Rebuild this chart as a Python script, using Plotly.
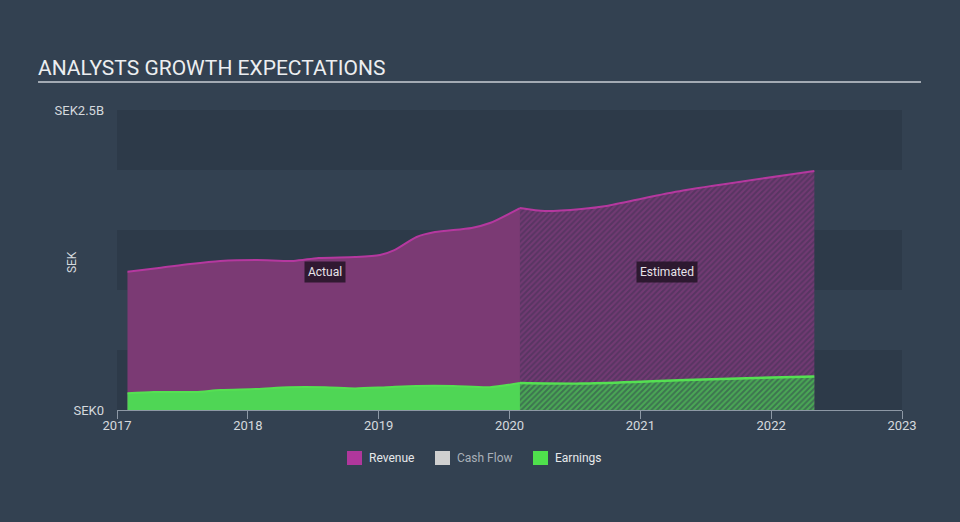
import plotly.graph_objects as go

# Revenue and earnings, SEK billions
rev_act_x = [2017.08, 2017.32, 2017.56, 2017.79, 2018.07, 2018.35, 2018.54, 2018.82,
             2019.01, 2019.12, 2019.29, 2019.43, 2019.71, 2019.85, 2020.08]
rev_act_y = [1.153, 1.183, 1.217, 1.242, 1.25, 1.242, 1.267, 1.275,
             1.292, 1.333, 1.442, 1.483, 1.517, 1.558, 1.683]
rev_est_x = [2020.08, 2020.27, 2020.55, 2020.74, 2021.07, 2021.35, 2022.33]
rev_est_y = [1.683, 1.658, 1.675, 1.70, 1.775, 1.833, 1.992]

earn_act_x = [2017.08, 2017.28, 2017.6, 2017.79, 2018.07, 2018.31, 2018.59,
              2018.82, 2019.06, 2019.29, 2019.57, 2019.85, 2020.08]
earn_act_y = [0.14, 0.15, 0.15, 0.167, 0.175, 0.19, 0.19,
              0.18, 0.19, 0.2, 0.2, 0.19, 0.225]
earn_est_x = [2020.08, 2020.55, 2021.0, 2021.35, 2022.33]
earn_est_y = [0.225, 0.22, 0.235, 0.25, 0.28]

years = [2017, 2018, 2019, 2020, 2021, 2022, 2023]
y_ticks = [0, 2.5]
y_labels = ["SEK0", "SEK2.5B"]
bands = [(0, 0.5), (1, 1.5), (2, 2.5)]
legend_names = ["Revenue", "Cash Flow", "Earnings"]

BG = "#334151"
BAND = "#2d3a49"
PURPLE_LINE = "#b5389f"
PURPLE_FILL = "#7b3a74"
GREEN_LINE = "#55e052"
GREEN_FILL = "#4fd655"
TEXT = "#d5d9de"
FONT = "Roboto"

fig = go.Figure()

# revenue actual
fig.add_trace(go.Scatter(
    x=rev_act_x, y=rev_act_y, name="Revenue", mode="lines",
    line=dict(color=PURPLE_LINE, width=2, shape="spline", smoothing=0.7),
    fill="tozeroy", fillcolor=PURPLE_FILL, hoverinfo="skip"
))
# revenue estimated (hatched)
fig.add_trace(go.Scatter(
    x=rev_est_x, y=rev_est_y, name="Revenue est", mode="lines",
    line=dict(color=PURPLE_LINE, width=2, shape="spline", smoothing=0.7),
    fill="tozeroy", fillcolor="#583562",
    fillpattern=dict(shape="/", fgcolor="#8c3f84", bgcolor="#583562", size=4, solidity=0.5),
    hoverinfo="skip"
))
# earnings actual
fig.add_trace(go.Scatter(
    x=earn_act_x, y=earn_act_y, name="Earnings", mode="lines",
    line=dict(color=GREEN_LINE, width=2, shape="spline", smoothing=0.7),
    fill="tozeroy", fillcolor=GREEN_FILL, hoverinfo="skip"
))
# earnings estimated (hatched)
fig.add_trace(go.Scatter(
    x=earn_est_x, y=earn_est_y, name="Earnings est", mode="lines",
    line=dict(color=GREEN_LINE, width=2.5, shape="spline", smoothing=0.7),
    fill="tozeroy", fillcolor="#3d7450",
    fillpattern=dict(shape="/", fgcolor="#58dc5a", bgcolor="#3d7450", size=4, solidity=0.5),
    hoverinfo="skip"
))

# alternating background bands
for y0, y1 in bands:
    fig.add_shape(type="rect", xref="paper", yref="y", x0=0, x1=1, y0=y0, y1=y1,
                  fillcolor=BAND, line=dict(width=0), layer="below")

# title underline
fig.add_shape(type="line", xref="paper", yref="paper",
              x0=-0.1006, x1=1.0242, y0=1.0933, y1=1.0933,
              line=dict(color="#a3aab3", width=2))

# legend drawn by hand: square swatch + label (pixel positions -> paper coords)
def px_x(p):
    return (p - 117) / 785

def px_y(p):
    return (410 - p) / 300

legend_swatch = ["#b0379c", "#cfcfcf", "#4fe04c"]
legend_text_col = ["#e6e8ea", "#a9b0b8", "#e6e8ea"]
legend_left = [347, 435, 533]
for name, sw, tc, left in zip(legend_names, legend_swatch, legend_text_col, legend_left):
    fig.add_shape(type="rect", xref="paper", yref="paper",
                  x0=px_x(left), x1=px_x(left + 15), y0=px_y(451), y1=px_y(465),
                  fillcolor=sw, line=dict(width=0))
    fig.add_annotation(xref="paper", yref="paper", x=px_x(left + 20), y=px_y(458),
                       xanchor="left", yanchor="middle", text=name, showarrow=False,
                       font=dict(family=FONT, size=12, color=tc))

# Actual / Estimated labels
fig.add_annotation(x=2018.59, y=1.15, text="Actual", showarrow=False,
                   font=dict(family=FONT, size=12, color="#e8e4ea"),
                   bgcolor="rgba(35,20,38,0.85)", borderpad=3)
fig.add_annotation(x=2021.2, y=1.15, text="Estimated", showarrow=False,
                   font=dict(family=FONT, size=12, color="#e8e4ea"),
                   bgcolor="rgba(35,20,38,0.85)", borderpad=3)

# y axis title
fig.add_annotation(xref="paper", yref="paper", x=px_x(72), y=0.493, text="SEK",
                   textangle=-90, showarrow=False, xanchor="center",
                   font=dict(family=FONT, size=12, color=TEXT))

fig.update_layout(
    width=960, height=522,
    margin=dict(l=117, r=58, t=110, b=112),
    paper_bgcolor=BG, plot_bgcolor=BG,
    font=dict(family=FONT, color=TEXT, size=12),
    title=dict(text="ANALYSTS GROWTH EXPECTATIONS", x=38 / 960, xanchor="left",
               y=1 - 68 / 522, yanchor="middle",
               font=dict(family=FONT, size=21, color="#eceef0")),
    xaxis=dict(range=[2017, 2023], tickvals=years, ticktext=[str(y) for y in years],
               showgrid=False, zeroline=False, showline=True, linecolor="#8d98a5",
               linewidth=1, ticks="outside", ticklen=8, tickcolor="#8d98a5",
               ticklabelstandoff=-5,
               tickfont=dict(family=FONT, size=13, color=TEXT), fixedrange=True),
    yaxis=dict(range=[0, 2.5], tickvals=y_ticks, ticktext=y_labels,
               showgrid=False, zeroline=False, showline=False, ticks="",
               ticklabelstandoff=12,
               tickfont=dict(family=FONT, size=13, color=TEXT), fixedrange=True),
    hovermode=False,
    showlegend=False,
)

fig.write_html("out.html", config={"displayModeBar": False},
               post_script="document.body.style.margin='0';")
